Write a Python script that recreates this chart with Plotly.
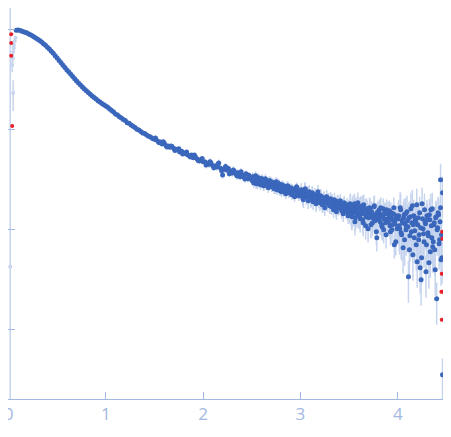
import numpy as np
import plotly.graph_objects as go

# scattering curve, values (log10 of intensity)
q_low = [0.08, 0.10, 0.12, 0.14, 0.16, 0.18, 0.20, 0.22, 0.24, 0.26,
         0.28, 0.30, 0.32, 0.34, 0.36, 0.38, 0.40, 0.42, 0.44, 0.46,
         0.48, 0.50, 0.52, 0.54, 0.56, 0.58, 0.60, 0.62, 0.64, 0.66,
         0.68, 0.70, 0.72, 0.74, 0.76, 0.78, 0.80, 0.82, 0.84, 0.86,
         0.88, 0.90, 0.92, 0.94, 0.96, 0.98, 1.00]
logi_low = [-0.003, 0.000, -0.006, -0.012, -0.019, -0.026, -0.035, -0.045, -0.056, -0.067,
            -0.079, -0.092, -0.106, -0.121, -0.137, -0.154, -0.172, -0.190, -0.212, -0.234,
            -0.258, -0.280, -0.305, -0.328, -0.352, -0.376, -0.400, -0.421, -0.444, -0.466,
            -0.489, -0.510, -0.530, -0.551, -0.570, -0.590, -0.608, -0.626, -0.644, -0.660,
            -0.676, -0.691, -0.707, -0.721, -0.735, -0.748, -0.761]

q_mid = [1.02, 1.04, 1.06, 1.08, 1.10, 1.12, 1.14, 1.16, 1.18, 1.20,
         1.22, 1.24, 1.26, 1.28, 1.30, 1.32, 1.34, 1.36, 1.38, 1.40,
         1.42, 1.44, 1.46, 1.48, 1.50, 1.52, 1.54, 1.56, 1.58, 1.60,
         1.62, 1.64, 1.66, 1.68, 1.70, 1.72, 1.74, 1.76, 1.78, 1.80,
         1.82, 1.84, 1.86, 1.88, 1.90, 1.92, 1.94, 1.96, 1.98, 2.00,
         2.02, 2.04, 2.06, 2.08, 2.10, 2.12, 2.14, 2.16, 2.18, 2.20,
         2.22, 2.24, 2.26, 2.28, 2.30, 2.32, 2.34, 2.36, 2.38, 2.40,
         2.42, 2.44, 2.46, 2.48, 2.50,
         1.51, 1.55, 1.59, 1.63, 1.67, 1.71, 1.75, 1.79, 1.83, 1.87,
         1.91, 1.95, 1.99, 2.03, 2.07, 2.11, 2.15, 2.19, 2.23, 2.27,
         2.31, 2.35, 2.39, 2.43, 2.47]
logi_mid = [-0.774, -0.790, -0.806, -0.820, -0.842, -0.851, -0.868, -0.880, -0.896, -0.906,
            -0.928, -0.934, -0.952, -0.964, -0.976, -0.994, -1.000, -1.016, -1.030, -1.036,
            -1.052, -1.064, -1.072, -1.086, -1.094, -1.102, -1.118, -1.122, -1.142, -1.132,
            -1.158, -1.160, -1.174, -1.166, -1.186, -1.194, -1.200, -1.222, -1.214, -1.236,
            -1.232, -1.248, -1.262, -1.250, -1.278, -1.268, -1.292, -1.310, -1.296, -1.318,
            -1.322, -1.336, -1.344, -1.328, -1.358, -1.364, -1.372, -1.330, -1.384, -1.452,
            -1.392, -1.402, -1.386, -1.420, -1.432, -1.410, -1.446, -1.430, -1.468, -1.452,
            -1.474, -1.440, -1.488, -1.470, -1.500,
            -1.082, -1.128, -1.118, -1.170, -1.160, -1.205, -1.188, -1.240, -1.222, -1.272,
            -1.250, -1.305, -1.285, -1.350, -1.318, -1.378, -1.345, -1.408, -1.365, -1.438,
            -1.400, -1.462, -1.418, -1.492, -1.455]

q_high = [2.51, 2.52, 2.53, 2.54, 2.55, 2.56, 2.57, 2.58, 2.59, 2.60,
          2.61, 2.62, 2.63, 2.64, 2.65, 2.66, 2.67, 2.68, 2.69, 2.70,
          2.71, 2.72, 2.73, 2.74, 2.75, 2.76, 2.77, 2.78, 2.79, 2.80,
          2.81, 2.82, 2.83, 2.84, 2.85, 2.86, 2.87, 2.88, 2.89, 2.90,
          2.91, 2.92, 2.93, 2.94, 2.95, 2.96, 2.97, 2.98, 2.99, 3.00,
          3.01, 3.02, 3.03, 3.04, 3.05, 3.06, 3.07, 3.08, 3.09, 3.10,
          3.11, 3.12, 3.13, 3.14, 3.15, 3.16, 3.17, 3.18, 3.19, 3.20,
          3.21, 3.22, 3.23, 3.24, 3.25, 3.26, 3.27, 3.28, 3.29, 3.30,
          3.31, 3.32, 3.33, 3.34, 3.35, 3.36, 3.37, 3.38, 3.39, 3.40,
          3.41, 3.42, 3.43, 3.44, 3.45, 3.46, 3.47, 3.48, 3.49, 3.50,
          3.51, 3.52, 3.53, 3.54, 3.55, 3.56, 3.57, 3.58, 3.59, 3.60,
          3.61, 3.62, 3.63, 3.64, 3.65, 3.66, 3.67, 3.68, 3.69, 3.70,
          3.71, 3.72, 3.73, 3.74, 3.75, 3.76, 3.77, 3.78, 3.79, 3.80,
          3.81, 3.82, 3.83, 3.84, 3.85, 3.86, 3.87, 3.88, 3.89, 3.90,
          3.91, 3.92, 3.93, 3.94, 3.95, 3.96, 3.97, 3.98, 3.99, 4.00,
          4.01, 4.02, 4.03, 4.04, 4.05, 4.06, 4.07, 4.08, 4.09, 4.10,
          4.11, 4.12, 4.13, 4.14, 4.15, 4.16, 4.17, 4.18, 4.19, 4.20,
          4.21, 4.22, 4.23, 4.24, 4.25, 4.26, 4.27, 4.28, 4.29, 4.30,
          4.31, 4.32, 4.33, 4.34, 4.35, 4.36, 4.37, 4.38, 4.39, 4.40,
          4.41, 4.42, 4.43, 4.44, 4.45, 4.44, 4.46, 4.46, 4.455,
          2.505, 2.525, 2.545, 2.565, 2.585, 2.605, 2.625, 2.645, 2.665, 2.685,
          2.705, 2.725, 2.745, 2.765, 2.785, 2.805, 2.825, 2.845, 2.865, 2.885,
          2.905, 2.925, 2.945, 2.965, 2.985, 3.005, 3.025, 3.045, 3.065, 3.085,
          3.105, 3.125, 3.145, 3.165, 3.185, 3.205, 3.225, 3.245, 3.265, 3.285,
          3.305, 3.325, 3.345, 3.365, 3.385, 3.405, 3.425, 3.445, 3.465, 3.485,
          3.505, 3.515, 3.525, 3.535, 3.545, 3.555, 3.565, 3.575, 3.585, 3.595,
          3.605, 3.615, 3.625, 3.635, 3.645, 3.655, 3.665, 3.675, 3.685, 3.695,
          3.705, 3.715, 3.725, 3.735, 3.745, 3.755, 3.765, 3.775, 3.785, 3.795,
          3.805, 3.815, 3.825, 3.835, 3.845, 3.855, 3.865, 3.875, 3.885, 3.895,
          3.905, 3.915, 3.925, 3.935, 3.945, 3.955, 3.965, 3.975, 3.985, 3.995,
          4.005, 4.015, 4.025, 4.035, 4.045, 4.055, 4.065, 4.075, 4.085, 4.095,
          4.105, 4.115, 4.125, 4.135, 4.145, 4.155, 4.165, 4.175, 4.185, 4.195,
          4.205, 4.215, 4.225, 4.235, 4.245, 4.255, 4.265, 4.275, 4.285, 4.295,
          4.305, 4.315, 4.325, 4.335, 4.345, 4.355, 4.365, 4.375, 4.385, 4.395,
          4.405, 4.415, 4.425, 4.435, 4.445]
logi_high = [-1.47, -1.53, -1.49, -1.46, -1.52, -1.54, -1.48, -1.50, -1.55, -1.49,
             -1.50, -1.56, -1.52, -1.49, -1.55, -1.53, -1.58, -1.51, -1.54, -1.52,
             -1.57, -1.53, -1.59, -1.55, -1.52, -1.60, -1.56, -1.54, -1.61, -1.57,
             -1.55, -1.60, -1.62, -1.57, -1.64, -1.59, -1.56, -1.63, -1.60, -1.58,
             -1.65, -1.59, -1.62, -1.67, -1.60, -1.57, -1.64, -1.61, -1.66, -1.62,
             -1.60, -1.66, -1.70, -1.63, -1.59, -1.67, -1.64, -1.71, -1.62, -1.66,
             -1.69, -1.63, -1.72, -1.67, -1.65, -1.74, -1.68, -1.62, -1.70, -1.73,
             -1.66, -1.72, -1.75, -1.69, -1.78, -1.71, -1.67, -1.74, -1.70, -1.76,
             -1.69, -1.77, -1.73, -1.80, -1.70, -1.75, -1.82, -1.72, -1.78, -1.74,
             -1.71, -1.79, -1.76, -1.84, -1.73, -1.78, -1.81, -1.75, -1.86, -1.77,
             -1.74, -1.82, -1.87, -1.76, -1.80, -1.92, -1.78, -1.84, -1.73, -1.83,
             -1.86, -1.77, -1.81, -1.90, -1.75, -1.84, -1.96, -1.79, -1.83, -1.88,
             -1.78, -1.87, -1.82, -1.93, -1.85, -1.76, -1.90, -2.02, -1.83, -1.88,
             -1.80, -1.92, -1.86, -1.97, -1.79, -1.89, -1.84, -2.05, -1.91, -1.82,
             -1.85, -1.96, -1.83, -2.00, -1.90, -1.78, -1.94, -2.12, -1.88, -1.97,
             -1.86, -1.99, -1.80, -2.05, -1.93, -1.88, -2.10, -1.84, -1.97, -1.91,
             -2.47, -2.20, -1.87, -2.02, -1.76, -1.95, -2.08, -1.90, -2.15, -2.32,
             -1.88, -2.05, -2.38, -2.50, -1.74, -1.99, -2.12, -1.92, -2.42, -1.86,
             -2.03, -2.33, -1.90, -1.80, -2.08, -2.17, -1.95, -2.20, -1.88, -2.69,
             -1.98, -1.85, -2.10, -1.78, -2.05, -1.50, -1.63, -3.45, -2.28,
             -1.51, -1.48, -1.54, -1.50, -1.53, -1.49, -1.56, -1.52, -1.55, -1.51,
             -1.57, -1.54, -1.59, -1.53, -1.58, -1.62, -1.56, -1.60, -1.57, -1.63,
             -1.59, -1.64, -1.61, -1.58, -1.66, -1.62, -1.68, -1.60, -1.65, -1.63,
             -1.70, -1.64, -1.68, -1.72, -1.66, -1.71, -1.75, -1.68, -1.73, -1.70,
             -1.76, -1.71, -1.74, -1.79, -1.72, -1.77, -1.81, -1.74, -1.78, -1.83,
             -1.80, -1.75, -1.86, -1.79, -1.83, -1.74, -1.88, -1.81, -1.77, -1.85,
             -1.78, -1.89, -1.82, -1.76, -1.93, -1.84, -1.79, -1.87, -1.81, -1.99,
             -1.85, -1.79, -1.95, -1.83, -1.88, -1.77, -1.91, -1.86, -2.08, -1.82,
             -1.90, -1.84, -1.78, -1.95, -1.87, -2.00, -1.83, -1.93, -1.80, -1.89,
             -1.92, -1.81, -2.02, -1.88, -1.95, -1.84, -2.15, -1.90, -1.86, -1.99,
             -1.89, -1.96, -1.78, -2.03, -1.91, -2.18, -1.85, -1.94, -2.00, -1.82,
             -1.97, -1.88, -2.06, -1.79, -1.93, -2.25, -1.86, -2.01, -1.92, -1.75,
             -1.95, -2.10, -1.83, -1.98, -2.28, -1.89, -2.04, -1.80, -1.94, -2.15,
             -1.90, -2.06, -1.85, -2.22, -1.96, -1.79, -2.12, -1.93, -2.40, -1.87,
             -2.00, -1.83, -2.14, -1.92, -2.30]

# relative error per q band (upper band edge, fraction)
err_edges = [1.0, 2.0, 2.5, 3.0, 3.5, 4.0, 5.0]
err_frac = [0.015, 0.045, 0.08, 0.11, 0.17, 0.27, 0.45]

# points at the start that are drawn faded
q_faded = [0.072, 0.065, 0.055, 0.055, 0.048, 0.045, 0.038, 0.048, 0.018]
logi_faded = [-0.077, -0.11, -0.15, -0.18, -0.22, -0.28, -0.35, -0.63, -2.37]
err_faded = [0.02, 0.03, 0.04, 0.04, 0.05, 0.06, 0.07, 0.08, 2.5]

# excluded points (red)
q_out = [0.028, 0.028, 0.028, 0.038, 4.456, 4.458, 4.452, 4.448, 4.458, 4.452]
logi_out = [-0.043, -0.13, -0.257, -0.96, -2.02, -2.09, -2.44, -2.62, -2.62, -2.90]

BLUE = "#3a67bb"
BAR = "#c6d4ee"
RED = "#e8202a"
AXIS = "#a3b7e2"

q = np.array(q_low + q_mid + q_high)
intensity = 10 ** np.array(logi_low + logi_mid + logi_high)
frac = np.array(err_frac)[np.searchsorted(err_edges, q, side="left")]
err = intensity * frac

fig = go.Figure()
fig.add_trace(
    go.Scatter(
        x=q_faded,
        y=10 ** np.array(logi_faded),
        mode="markers",
        marker=dict(size=4, color=BAR),
        error_y=dict(type="data", array=err_faded, color=BAR, thickness=1.5, width=0),
        showlegend=False,
    )
)
fig.add_trace(
    go.Scatter(
        x=q,
        y=intensity,
        mode="markers",
        marker=dict(size=5, color=BLUE),
        error_y=dict(type="data", array=err, color=BAR, thickness=1.5, width=0),
        showlegend=False,
    )
)
fig.add_trace(
    go.Scatter(
        x=q_out,
        y=10 ** np.array(logi_out),
        mode="markers",
        marker=dict(size=4, color=RED),
        showlegend=False,
    )
)

# the page body adds 8px around the figure, so size it to what stays visible
fig.update_xaxes(
    range=[-0.005, 4.465],
    automargin=False,
    showgrid=False,
    zeroline=False,
    showline=True,
    linecolor=AXIS,
    linewidth=1,
    ticks="inside",
    ticklen=7,
    tickcolor=AXIS,
    dtick=1,
    ticklabeloverflow="allow",
    tickfont=dict(family="Open Sans", size=17, color=AXIS),
)
fig.update_yaxes(
    type="log",
    range=[-3.693, 0.22],
    automargin=False,
    showgrid=False,
    zeroline=False,
    showline=True,
    linecolor=AXIS,
    linewidth=1,
    ticks="inside",
    ticklen=7,
    tickcolor=AXIS,
    dtick=1,
    showticklabels=False,
)
fig.update_layout(
    width=435,
    height=421,
    margin=dict(l=0, r=0, t=0, b=30),
    plot_bgcolor="white",
    paper_bgcolor="white",
)

fig.write_html("out.html")
